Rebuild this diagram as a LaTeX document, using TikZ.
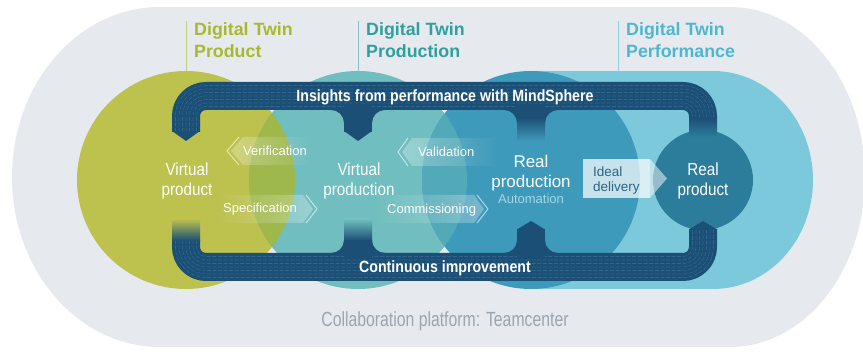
\documentclass[tikz,border=0pt]{standalone}
\usepackage{fontspec}
\setmainfont{Liberation Sans}
\newfontfamily\condA[FakeStretch=0.87]{Liberation Sans}
\newfontfamily\condB[FakeStretch=0.77]{Liberation Sans}
\usetikzlibrary{calc,fadings}
\definecolor{bggray}{HTML}{E6EAEE}
\definecolor{cgreen}{HTML}{BDC14E}
\definecolor{cteal}{HTML}{70BEBF}
\definecolor{cblue}{HTML}{3D9ABA}
\definecolor{cperf}{HTML}{7CC9DB}
\definecolor{cdark}{HTML}{2C7C9C}
\definecolor{lensA}{HTML}{9EB84B}
\definecolor{lensB}{HTML}{52A9B8}
\definecolor{cnavy}{HTML}{1B4F75}
\definecolor{navytex}{HTML}{3A7198}
\definecolor{hgreen}{HTML}{A9B92F}
\definecolor{hteal}{HTML}{2F9F9F}
\definecolor{hblue}{HTML}{4DB7D1}
\definecolor{capgray}{HTML}{9AA5AF}
\definecolor{autoblue}{HTML}{A5D6E6}
\definecolor{idealtxt}{HTML}{2A6585}
\tikzfading[name=fadetoright, left color=transparent!0, right color=transparent!100]
\tikzfading[name=fadetoleft, left color=transparent!100, right color=transparent!0]
\newcommand{\mkfillet}[4]{\fill[cnavy] ({#1+#3*13},{#2}) -- (#1,#2) -- ({#1},{#2+#4*13}) .. controls ({#1},{#2+#4*5.8}) and ({#1+#3*5.8},{#2}) .. ({#1+#3*13},{#2}) -- cycle;}
\begin{document}
\begin{tikzpicture}[x=1pt,y=-1pt,line join=round,
  band/.style={draw=cnavy,line width=28pt,rounded corners=20pt},
  tex/.style={draw=navytex,line width=0.6pt,dash pattern=on 4pt off 1.6pt,draw opacity=0.7},
  head/.style={inner sep=0,font=\bfseries\fontsize{17.8}{20}\selectfont},
  hline/.style={line width=0.8pt},
  wlbl/.style={inner sep=0,text=white,anchor=base,font=\condA\fontsize{17.5}{20}\selectfont},
  bandtxt/.style={inner sep=0,text=white,anchor=base,font=\condA\bfseries\fontsize{16.3}{19}\selectfont},
  small/.style={inner sep=0,text=white,anchor=base west,font=\fontsize{13}{15}\selectfont},
  minibody/.style={fill=white,fill opacity=0.3},
  minihead/.style={draw=white,draw opacity=0.6,line width=1pt}]
\useasboundingbox (0,0) rectangle (863,352);
\fill[white] (0,0) rectangle (863,352);
% background platform
\fill[bggray] (160,7) rectangle (730,347);
\fill[bggray] (160,177) ellipse [x radius=148, y radius=170];
\fill[bggray] (730,177) ellipse [x radius=135, y radius=170];
% header lines
\draw[hline,draw=hgreen!55!bggray] (186,21) -- (186,72);
\draw[hline,draw=hteal!55!bggray] (358,21) -- (358,72);
\draw[hline,draw=hblue!55!bggray] (618,21) -- (618,72);
\node[head,text=hgreen,anchor=base west] (h1a) at (194,36) {Digital Twin};
\node[head,text=hgreen,anchor=base west] (h1b) at (194,58) {Product};
\node[head,text=hteal,anchor=base west] (h2a) at (366,36) {Digital Twin};
\node[head,text=hteal,anchor=base west] (h2b) at (366,58) {Production};
\node[head,text=hblue,anchor=base west] (h3a) at (626,36) {Digital Twin};
\node[head,text=hblue,anchor=base west] (h3b) at (626,58) {Performance};
% performance area
\fill[cperf] (531,71) rectangle (713,289);
\fill[cperf] (713,180) ellipse [x radius=100, y radius=109];
% circles
\fill[cgreen] (186,180) circle [radius=109];
\fill[cteal] (358,180) circle [radius=109];
\begin{scope}\clip (186,180) circle [radius=109]; \fill[lensA] (358,180) circle [radius=109];\end{scope}
\fill[cblue] (531,180) circle [radius=109];
\begin{scope}\clip (358,180) circle [radius=109]; \fill[lensB] (531,180) circle [radius=109];\end{scope}
\fill[cdark] (703,180) circle [radius=50];
% top band
\draw[band] (186,132) -- (186,96) -- (703,96) -- (703,118);
\foreach \d in {-10.5,-7,-3.5,0,3.5,7,10.5}{
  \pgfmathsetmacro\rr{20+\d}
  \draw[tex,rounded corners=\rr pt] ({186-\d},132) -- ({186-\d},{96-\d}) -- ({703+\d},{96-\d}) -- ({703+\d},118);
}
\fill[cnavy] (172,131) -- (200,131) -- (186,141) -- cycle;
\fill[cnavy] (344,104) rectangle (372,132);
\mkfillet{344}{110}{-1}{1}
\mkfillet{372}{110}{1}{1}
\fill[cnavy] (344,131) -- (372,131) -- (358,141) -- cycle;
\fill[cnavy] (517,104) rectangle (545,118);
\mkfillet{517}{110}{-1}{1}
\mkfillet{545}{110}{1}{1}
\shade[top color=cnavy,bottom color=cblue] (517,117.5) rectangle (545,141);
\shade[top color=cnavy,bottom color=cdark] (689,117.5) rectangle (717,137);
% bottom band
\draw[band] (186,240) -- (186,267) -- (703,267) -- (703,229);
\foreach \d in {-10.5,-7,-3.5,0,3.5,7,10.5}{
  \pgfmathsetmacro\rr{20+\d}
  \draw[tex,rounded corners=\rr pt] ({186-\d},240) -- ({186-\d},{267+\d}) -- ({703+\d},{267+\d}) -- ({703+\d},229);
}
\shade[top color=cgreen,bottom color=cnavy] (172,219) rectangle (200,240.5);
\shade[top color=cteal,bottom color=cnavy] (344,219) rectangle (372,240.5);
\fill[cnavy] (344,240) rectangle (372,258);
\mkfillet{344}{253}{-1}{-1}
\mkfillet{372}{253}{1}{-1}
\fill[cnavy] (517,229) rectangle (545,258);
\mkfillet{517}{253}{-1}{-1}
\mkfillet{545}{253}{1}{-1}
\fill[cnavy] (517,229.5) -- (545,229.5) -- (531,221) -- cycle;
\fill[cnavy] (689,229.5) -- (717,229.5) -- (703,221) -- cycle;
% band texts
\node[bandtxt] (ins) at (445,101.7) {Insights from performance with MindSphere};
\node[bandtxt] (cont) at (445,272.5) {Continuous improvement};
% small arrows
\fill[minibody,path fading=fadetoright] (231,151) -- (243,137) -- (312,137) -- (312,165) -- (243,165) -- cycle;
\draw[minihead] (239,137) -- (227,151) -- (239,165);
\fill[minibody,path fading=fadetoleft] (214,195) -- (303,195) -- (313,209) -- (303,223) -- (214,223) -- cycle;
\draw[minihead] (306,195) -- (317,209) -- (306,223);
\fill[minibody,path fading=fadetoright] (402,152) -- (412,138) -- (499,138) -- (499,166) -- (412,166) -- cycle;
\draw[minihead] (408,138) -- (398,152) -- (408,166);
\fill[minibody,path fading=fadetoleft] (372,195) -- (474,195) -- (484,209) -- (474,223) -- (372,223) -- cycle;
\draw[minihead] (477,195) -- (488,209) -- (477,223);
\node[small] (ver) at (243,156) {Verification};
\node[small] (spec) at (223,213) {Specification};
\node[small] (val) at (418,157) {Validation};
\node[small] (com) at (387,214) {Commissioning};
% ideal delivery
\fill[white,fill opacity=0.72] (583,159) rectangle (650,198);
\fill[white,fill opacity=0.5] (650,159) -- (667,178.5) -- (650,198) -- cycle;
\node[inner sep=0,text=idealtxt,anchor=base west,font=\fontsize{13.5}{16}\selectfont] (id1) at (593,177) {Ideal};
\node[inner sep=0,text=idealtxt,anchor=base west,font=\fontsize{13.5}{16}\selectfont] (id2) at (593,192) {delivery};
% circle labels
\node[wlbl] (vp1) at (187,176) {Virtual};
\node[wlbl] (vp2) at (187,196) {product};
\node[wlbl] (vq1) at (359,176) {Virtual};
\node[wlbl] (vq2) at (359,196) {production};
\node[inner sep=0,text=white,anchor=base,font=\fontsize{17}{20}\selectfont] (rp1) at (531,168) {Real};
\node[inner sep=0,text=white,anchor=base,font=\fontsize{17}{20}\selectfont] (rp2) at (531,188) {production};
\node[inner sep=0,text=autoblue,anchor=base,font=\fontsize{13}{15}\selectfont] (auto) at (531,203.5) {Automation};
\node[wlbl] (rq1) at (703,176) {Real};
\node[wlbl] (rq2) at (703,196) {product};
% caption
\node[inner sep=0,text=capgray,anchor=base,font=\condB\fontsize{20.5}{24}\selectfont] (cap) at (445,326.5) {Collaboration platform: Teamcenter};
\end{tikzpicture}
\end{document}
